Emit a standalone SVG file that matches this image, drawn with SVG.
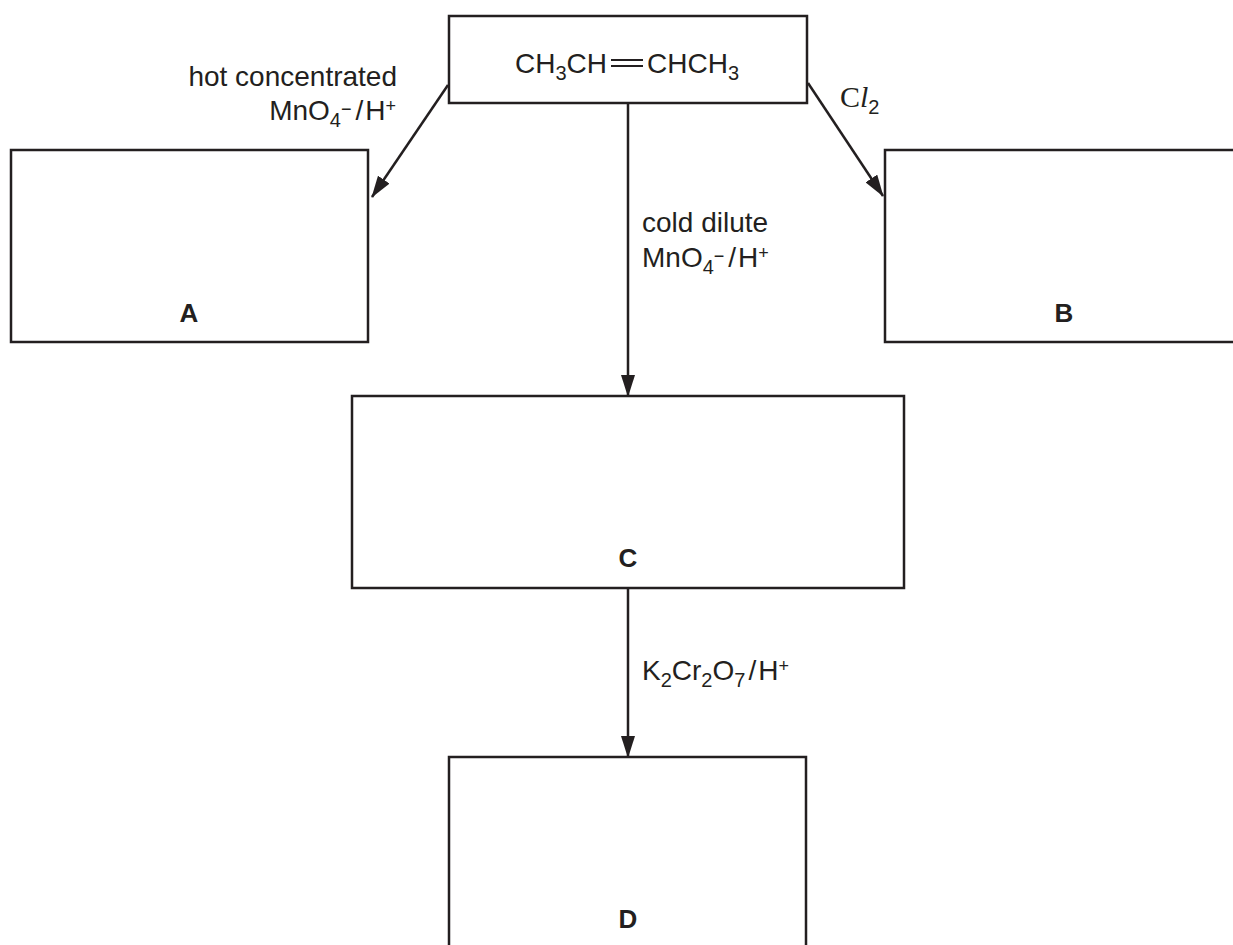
<svg xmlns="http://www.w3.org/2000/svg" width="1233" height="945" viewBox="0 0 1233 945">
<defs>
<style>
.box{fill:#fff;stroke:#231f20;stroke-width:2.5}
.t{font-family:"Liberation Sans",Arial,sans-serif;font-size:28px;fill:#231f20}
.lbl{font-family:"Liberation Sans",Arial,sans-serif;font-size:26px;font-weight:bold;fill:#231f20}
.sub{font-size:20px}
.sup{font-size:18px}
.con{stroke:#231f20;stroke-width:2.5;fill:none}
</style>
<marker id="ah" markerWidth="22" markerHeight="14" refX="21" refY="7" orient="auto" markerUnits="userSpaceOnUse">
<path d="M0,0 L22,7 L0,14 Z" fill="#231f20"/>
</marker>
</defs>
<rect width="1233" height="945" fill="#fff"/>
<g id="connectors">
<line class="con" x1="448" y1="85" x2="372" y2="197" marker-end="url(#ah)"/>
<line class="con" x1="808" y1="83" x2="883" y2="196" marker-end="url(#ah)"/>
<line class="con" x1="628" y1="103" x2="628" y2="396" marker-end="url(#ah)"/>
<line class="con" x1="628" y1="588" x2="628" y2="757" marker-end="url(#ah)"/>
</g>
<g id="start">
<rect class="box" x="449" y="16" width="358" height="87"/>
<text class="t" x="607" y="73" text-anchor="end">CH<tspan class="sub" dy="7">3</tspan><tspan dy="-7">CH</tspan></text>
<line x1="611" y1="60" x2="643" y2="60" stroke="#231f20" stroke-width="2"/>
<line x1="611" y1="66" x2="643" y2="66" stroke="#231f20" stroke-width="2"/>
<text class="t" x="647" y="73">CHCH<tspan class="sub" dy="7">3</tspan></text>
</g>
<g id="labels">
<text class="t" x="397" y="86" text-anchor="end">hot concentrated</text>
<text class="t" x="396" y="120" text-anchor="end">MnO<tspan class="sub" dy="7">4</tspan><tspan class="sup" dy="-12">−</tspan><tspan dx="4" dy="5">/</tspan><tspan dx="2">H</tspan><tspan class="sup" dy="-8">+</tspan></text>
<text x="840" y="107" font-family="'Liberation Serif','Times New Roman',serif" font-size="30" fill="#231f20">C<tspan font-style="italic">l</tspan><tspan font-family="'Liberation Sans',Arial,sans-serif" font-size="20" dy="7">2</tspan></text>
<text class="t" x="642" y="232">cold dilute</text>
<text class="t" x="642" y="267">MnO<tspan class="sub" dy="7">4</tspan><tspan class="sup" dy="-12">−</tspan><tspan dx="4" dy="5">/</tspan><tspan dx="2">H</tspan><tspan class="sup" dy="-8">+</tspan></text>
<text class="t" x="642" y="680">K<tspan class="sub" dy="7">2</tspan><tspan dy="-7">Cr</tspan><tspan class="sub" dy="7">2</tspan><tspan dy="-7">O</tspan><tspan class="sub" dy="7">7</tspan><tspan dx="3" dy="-7">/</tspan><tspan dx="2">H</tspan><tspan class="sup" dy="-8">+</tspan></text>
</g>
<g id="A">
<rect class="box" x="11" y="150" width="357" height="192"/>
<text class="lbl" x="189" y="322" text-anchor="middle">A</text>
</g>
<g id="B">
<rect class="box" x="885" y="150" width="360" height="192"/>
<text class="lbl" x="1064" y="322" text-anchor="middle">B</text>
</g>
<g id="C">
<rect class="box" x="352" y="396" width="552" height="192"/>
<text class="lbl" x="628" y="567" text-anchor="middle">C</text>
</g>
<g id="D">
<rect class="box" x="449" y="757" width="357" height="200"/>
<text class="lbl" x="628" y="928" text-anchor="middle">D</text>
</g>
</svg>
